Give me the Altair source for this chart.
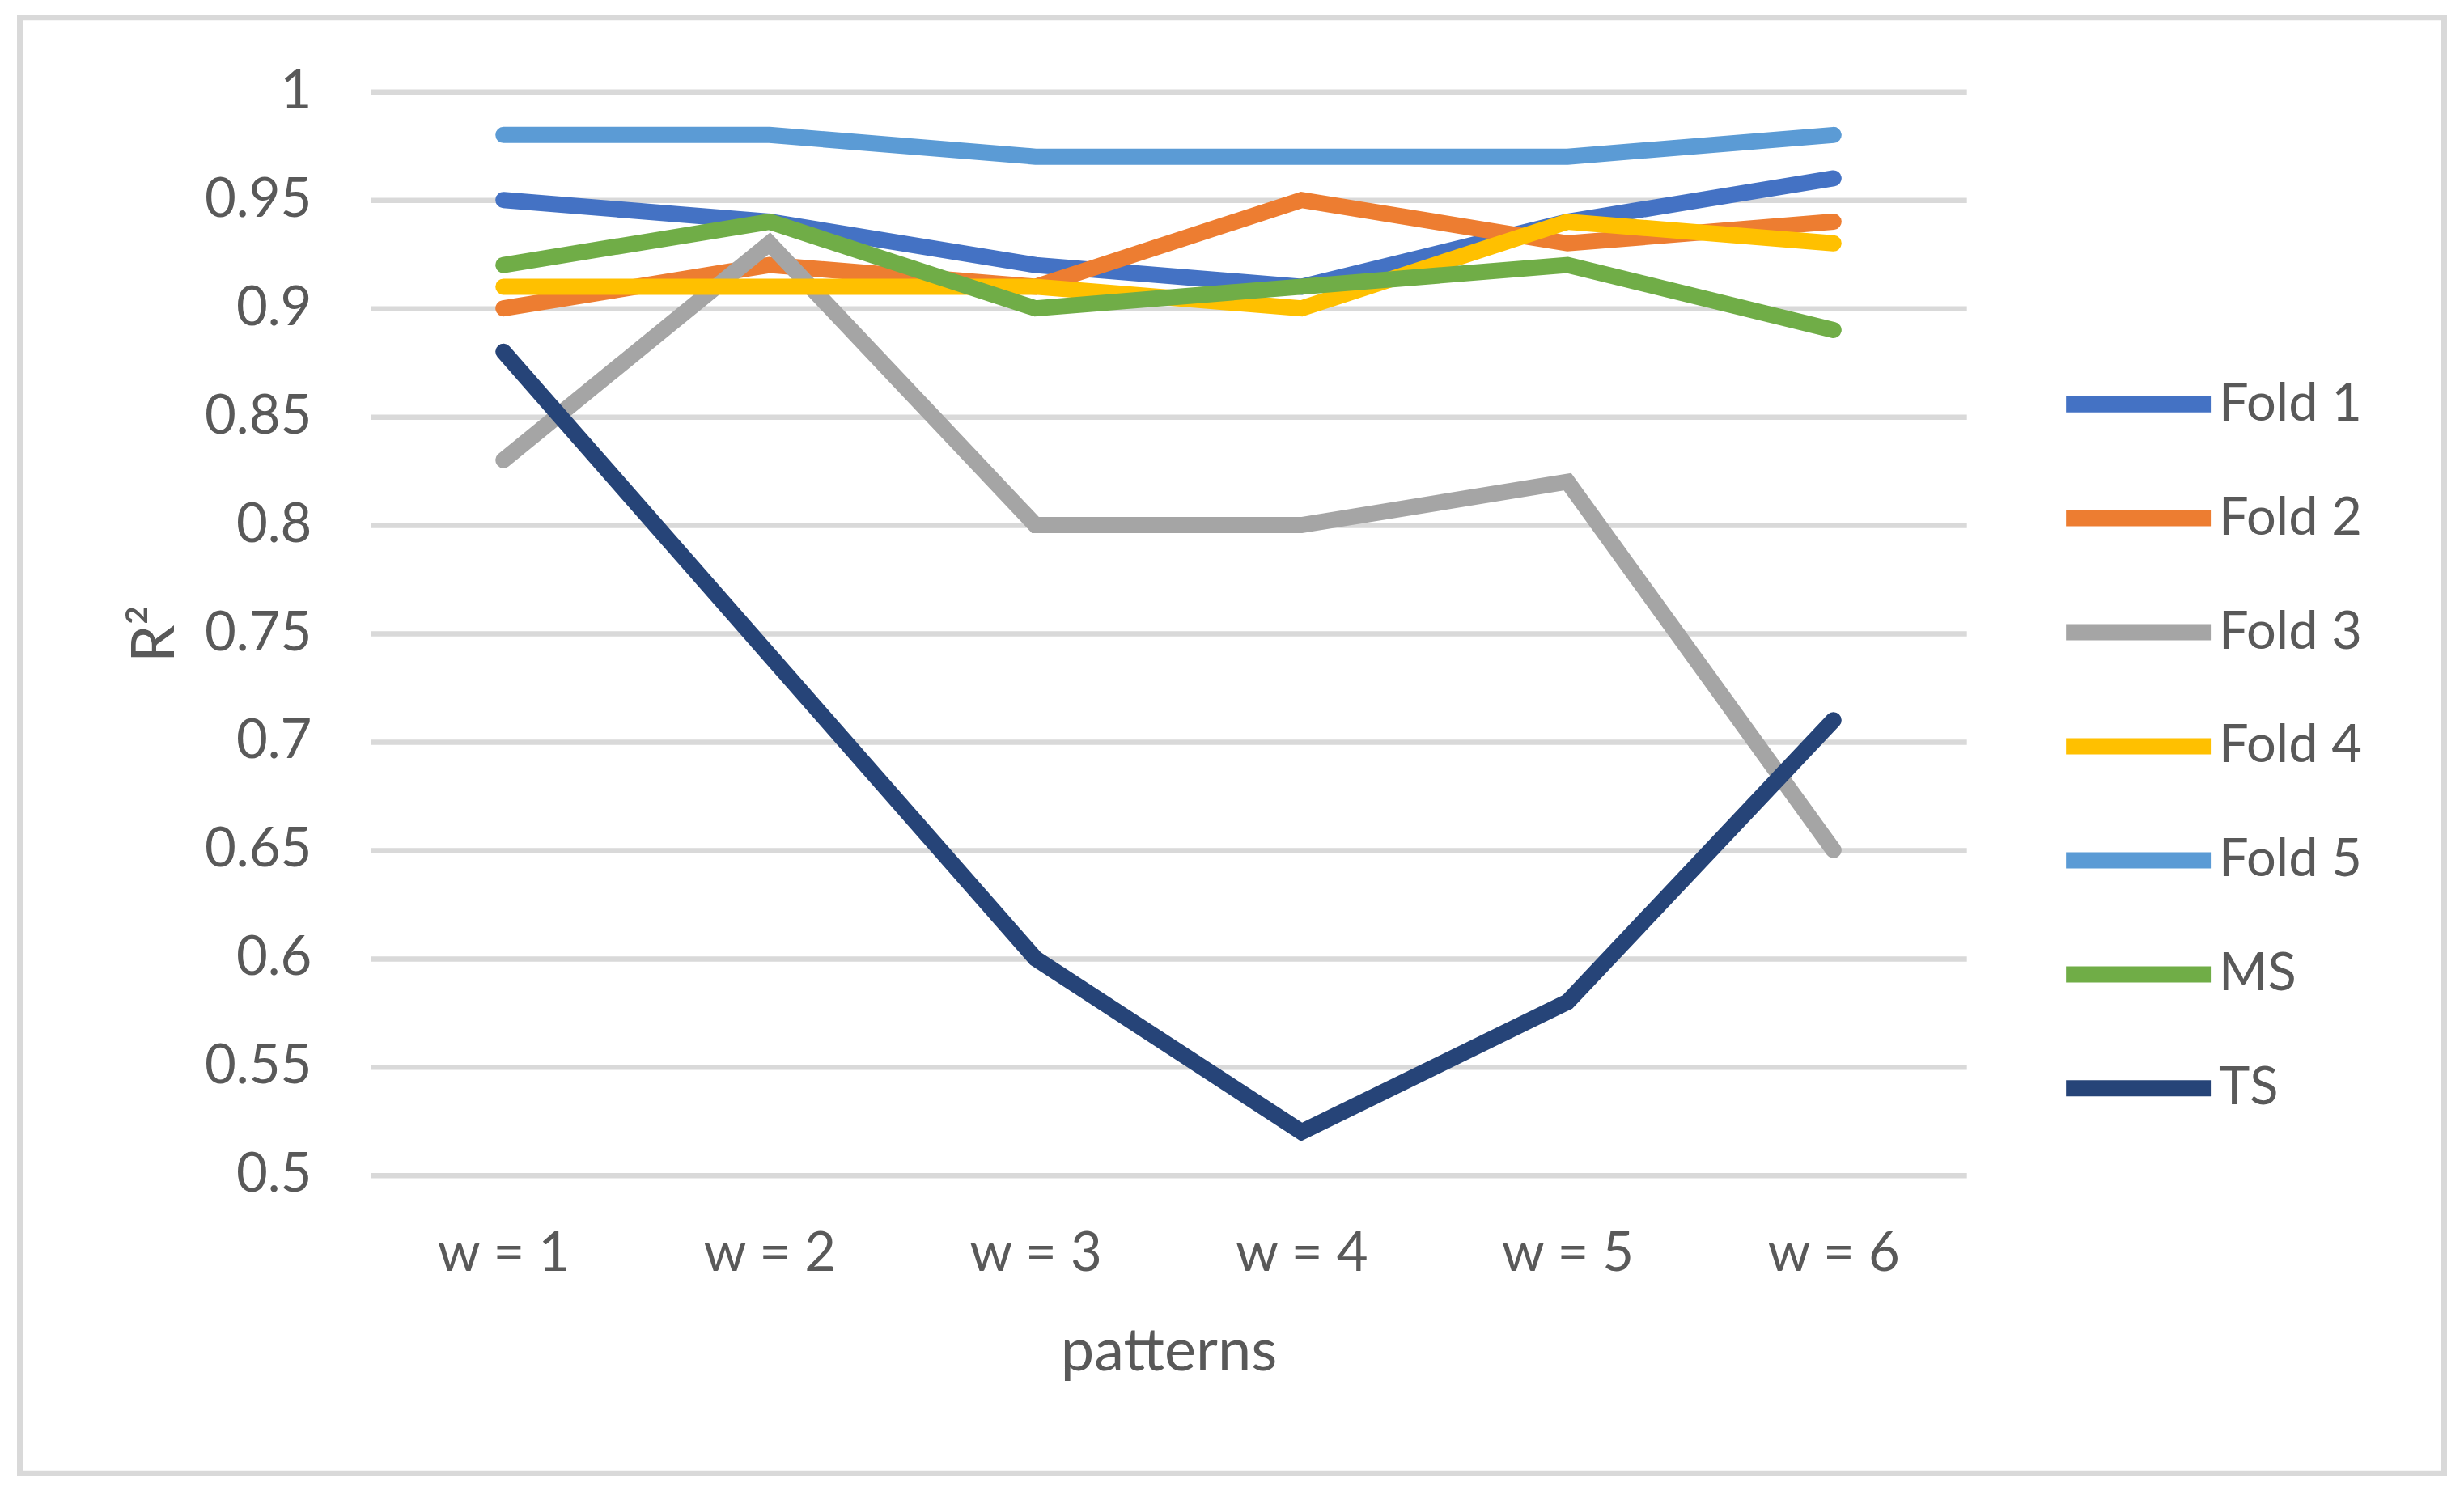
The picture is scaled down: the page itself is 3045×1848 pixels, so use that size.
import altair as alt
import pandas as pd

# ---- data ----
patterns = ["w = 1", "w = 2", "w = 3", "w = 4", "w = 5", "w = 6"]
series_names = ["Fold 1", "Fold 2", "Fold 3", "Fold 4", "Fold 5", "MS", "TS"]

fold1 = [0.95, 0.94, 0.92, 0.91, 0.94, 0.96]
fold2 = [0.90, 0.92, 0.91, 0.95, 0.93, 0.94]
fold3 = [0.83, 0.93, 0.80, 0.80, 0.82, 0.65]
fold4 = [0.91, 0.91, 0.91, 0.90, 0.94, 0.93]
fold5 = [0.98, 0.98, 0.97, 0.97, 0.97, 0.98]
ms = [0.92, 0.94, 0.90, 0.91, 0.92, 0.89]
ts = [0.88, 0.74, 0.60, 0.52, 0.58, 0.71]

series_values = [fold1, fold2, fold3, fold4, fold5, ms, ts]
colors = ["#4472C4", "#ED7D31", "#A5A5A5", "#FFC000", "#5B9BD5", "#70AD47", "#264478"]
y_ticks = [0.5, 0.55, 0.6, 0.65, 0.7, 0.75, 0.8, 0.85, 0.9, 0.95, 1.0]

rows = []
for name, vals in zip(series_names, series_values):
    for p, v in zip(patterns, vals):
        rows.append({"series": name, "pattern": p, "r2": v})
df = pd.DataFrame(rows)

TEXT = "#595959"
FONT = "Lato"

border = alt.Chart(alt.Data(values=[{"k": 1}])).mark_rect(
    fill=None, stroke="#D9D9D9", strokeWidth=7
).encode(
    x=alt.value(-433.5), x2=alt.value(2563.5),
    y=alt.value(-91.5), y2=alt.value(1708.5)
)

lines = alt.Chart(df).mark_line(
    strokeWidth=20, strokeCap="round", strokeJoin="miter"
).encode(
    x=alt.X(
        "pattern:N", sort=patterns,
        scale=alt.Scale(type="point", padding=0.5),
        axis=alt.Axis(
            title="patterns", ticks=False, domain=False, grid=False,
            labelAngle=0, labelPadding=65, titlePadding=52,
            labelFontSize=67, titleFontSize=74,
        ),
    ),
    y=alt.Y(
        "r2:Q",
        scale=alt.Scale(domain=[0.5, 1.0], nice=False, zero=False),
        axis=alt.Axis(
            title="R²", values=y_ticks, format=".2~f", ticks=False,
            domain=False, grid=True, gridColor="#D9D9D9", gridWidth=6.5,
            labelPadding=73, titlePadding=27,
            labelFontSize=67, titleFontSize=74,
        ),
    ),
    color=alt.Color(
        "series:N", sort=series_names,
        scale=alt.Scale(domain=series_names, range=colors),
        legend=alt.Legend(
            title=None, orient="none", legendX=2086, legendY=287,
            symbolType="stroke", symbolSize=32041, symbolStrokeWidth=20,
            labelFontSize=65, rowPadding=1, padding=0, labelOffset=0,
            labelLimit=0,
        ),
    ),
)

chart = alt.layer(border, lines).properties(
    width=1973, height=1340,
    autosize=alt.AutoSizeParams(type="none"),
    padding={"left": 450, "top": 105, "right": 607, "bottom": 385},
    background="white",
).configure_axis(
    labelColor=TEXT, titleColor=TEXT, labelFont=FONT, titleFont=FONT,
    titleFontWeight="normal",
).configure_legend(
    labelColor=TEXT, labelFont=FONT,
).configure_view(stroke=None)

chart.save("out.html", embed_options={"renderer": "svg", "actions": False})
